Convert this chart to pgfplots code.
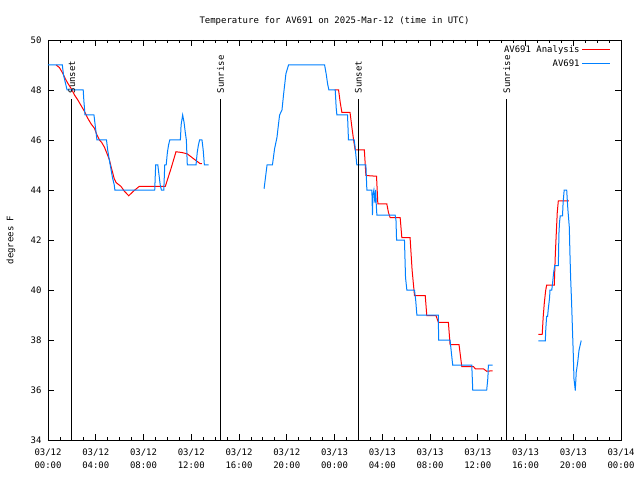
\documentclass[border=0pt]{standalone}
\usepackage{fontspec}
\setmainfont{DejaVu Sans Mono}
\usepackage{pgfplots}
\pgfplotsset{compat=1.18}
\definecolor{gpred}{RGB}{255,0,0}
\definecolor{gpblue}{RGB}{0,128,255}
\begin{document}
\begin{tikzpicture}[font=\fontsize{9}{10}\selectfont]
\begin{axis}[
    name=main,
    scale only axis,
    width=573bp, height=400bp,
    xmin=0, xmax=48, ymin=34, ymax=50,
    xtick={0,4,...,48},
    xticklabels={{03/12\\00:00},{03/12\\04:00},{03/12\\08:00},{03/12\\12:00},{03/12\\16:00},{03/12\\20:00},{03/13\\00:00},{03/13\\04:00},{03/13\\08:00},{03/13\\12:00},{03/13\\16:00},{03/13\\20:00},{03/14\\00:00}},
    minor x tick num=3,
    ytick={34,36,...,50},
    tick align=inside,
    major tick length=6bp,
    minor tick length=3bp,
    tick style={black, line width=0.8bp},
    axis line style={line width=0.9bp},
    /pgf/number format/assume math mode=true,
    xticklabel style={align=center, yshift=-5bp, font=\fontsize{9}{13.5}\selectfont},
    yticklabel style={xshift=-3bp},
    title={Temperature for AV691 on 2025-Mar-12 (time in UTC)},
    title style={at={(0.5,1)}, anchor=center, yshift=13bp},
    ylabel={degrees F},
    ylabel style={at={(axis description cs:-0.0646,0.5)}, anchor=center},
    legend plot pos=right,
    legend cell align=right,
    legend style={draw=none, fill=none, at={(1,1)}, anchor=north east,
        xshift=-9bp, yshift=-2bp, row sep=2bp, inner sep=1bp},
]

% analysis (red)
\addplot[gpred, line width=1bp,
    legend image code/.code={\draw[gpred, line width=1.2bp] (8bp,0bp) -- (36bp,0bp);}] coordinates {
(0.68,49) (0.95,48.9) (1.24,48.67) (1.45,48.45) (1.66,48.27) (1.95,48.05)
(2.22,47.8) (2.5,47.6) (2.78,47.37) (3.05,47.15) (3.33,46.87) (3.6,46.65)
(3.89,46.47) (4.1,46.2) (4.31,46.0) (4.5,45.9) (4.73,45.71) (4.95,45.45)
(5.15,45.2) (5.3,44.9) (5.43,44.67) (5.55,44.45) (5.7,44.3) (6.12,44.14)
(6.4,43.95) (6.76,43.77) (7.2,43.97) (7.66,44.15) (9.83,44.15) (10.3,44.85)
(10.72,45.53) (11.2,45.5) (11.65,45.45) (12.2,45.25) (12.76,45.05) (12.9,45.05)
};
\addlegendentry{AV691 Analysis}
\addplot[gpred, line width=1bp, forget plot] coordinates {
(24.0,48) (24.34,48) (24.48,47.5) (24.62,47.1) (25.3,47.1) (25.46,46.5)
(25.6,46) (25.73,45.6) (26.5,45.6) (26.63,44.58) (27.52,44.55) (27.63,43.45)
(28.38,43.45) (28.52,43.1) (28.66,42.9) (29.5,42.9) (29.64,42.1) (30.33,42.1)
(30.5,40.8) (30.7,39.78) (31.6,39.78) (31.73,38.98) (32.5,38.98) (32.7,38.71)
(33.54,38.71) (33.68,37.82) (34.43,37.82) (34.66,36.94) (35.63,36.94)
(35.8,36.85) (36.47,36.85) (36.75,36.75) (37.25,36.77)
};
\addplot[gpred, line width=1bp, forget plot] coordinates {
(41.07,38.23) (41.4,38.23) (41.48,38.91) (41.57,39.45) (41.68,39.95)
(41.77,40.2) (42.41,40.2) (42.5,41.45) (42.58,42.29) (42.66,43.1)
(42.75,43.57) (43.64,43.57)
};

% observations (blue)
\addplot[gpblue, line width=1bp,
    legend image code/.code={\draw[gpblue, line width=1.2bp] (8bp,0bp) -- (36bp,0bp);}] coordinates {
(0,49) (1.2,49) (1.3,48.6) (1.45,48.3) (1.6,48) (2.95,48) (3.0,47.6) (3.1,47)
(3.85,47) (3.95,46.6) (4.05,46.2) (4.1,46) (4.9,46) (5.0,45.6) (5.1,45.3)
(5.25,44.9) (5.4,44.5) (5.55,44.2) (5.6,44) (8.94,44) (9.02,45) (9.2,45)
(9.3,44.6) (9.4,44.2) (9.5,44) (9.7,44) (9.78,45) (9.9,45) (10.0,45.5)
(10.1,45.8) (10.2,46) (11.09,46) (11.15,46.6) (11.28,47) (11.4,46.7)
(11.5,46.3) (11.59,46) (11.67,45) (12.4,45) (12.5,45.5) (12.6,45.8) (12.7,46)
(12.9,46) (13.0,45.6) (13.1,45) (13.46,45)
};
\addlegendentry{AV691}
\addplot[gpblue, line width=1bp, forget plot] coordinates {
(18.1,44.05) (18.35,45) (18.8,45) (18.98,45.65) (19.18,46.1) (19.3,46.6)
(19.4,47.0) (19.6,47.2) (19.74,47.85) (19.93,48.65) (20.15,49) (23.17,49)
(23.3,48.65) (23.42,48.25) (23.53,48) (24.06,48) (24.14,47.3) (24.2,47)
(25.09,47) (25.17,46) (25.65,46) (25.73,45.7) (25.87,45) (26.63,45)
(26.71,44) (27.13,44) (27.18,43) (27.22,43.8) (27.3,44) (27.38,43.5)
(27.45,44) (27.5,43.4) (27.55,43) (29.08,43) (29.15,42.8) (29.2,42)
(29.86,42) (29.95,40.5) (30.06,40) (30.7,40) (30.8,39.6) (30.9,39) (32.7,39)
(32.72,38) (33.68,38) (33.8,37.45) (33.9,37) (35.5,37) (35.58,36) (36.75,36)
(36.85,36.5) (36.89,37) (37.25,37)
};
\addplot[gpblue, line width=1bp, forget plot] coordinates {
(41.07,37.97) (41.66,37.97) (41.7,38.45) (41.77,38.95) (41.85,38.95)
(41.9,39.2) (42.02,39.71) (42.05,40) (42.2,40) (42.25,40.2) (42.36,40.71)
(42.45,40.98) (42.75,40.98) (42.8,42.25) (42.85,42.71) (42.91,42.97)
(43.1,42.97) (43.15,43.49) (43.24,44) (43.45,44) (43.5,43.6) (43.55,43.22)
(43.67,42.51) (43.72,41.5) (43.78,40.5) (43.86,39.51) (43.93,38.47)
(44.0,37.47) (44.06,36.45) (44.17,35.98) (44.25,36.71) (44.37,37.1)
(44.48,37.58) (44.58,37.8) (44.67,37.98)
};

% sunset / sunrise markers
\addplot[black, line width=1bp, forget plot] coordinates {(1.99,34) (1.99,47.62)};
\addplot[black, line width=1bp, forget plot] coordinates {(14.45,34) (14.45,47.62)};
\addplot[black, line width=1bp, forget plot] coordinates {(26.0,34) (26.0,47.62)};
\addplot[black, line width=1bp, forget plot] coordinates {(38.43,34) (38.43,47.62)};
\node[rotate=90, anchor=west, inner sep=0pt] at (axis cs:1.99,47.86) {Sunset};
\node[rotate=90, anchor=west, inner sep=0pt] at (axis cs:14.45,47.86) {Sunrise};
\node[rotate=90, anchor=west, inner sep=0pt] at (axis cs:26.0,47.86) {Sunset};
\node[rotate=90, anchor=west, inner sep=0pt] at (axis cs:38.43,47.86) {Sunrise};

\end{axis}
% fix the page to 640x480 with the plot box at (48,40)-(621,440) from the top left
\pgfresetboundingbox
\path ([xshift=-48bp,yshift=-40bp]main.south west) rectangle ([xshift=19bp,yshift=40bp]main.north east);
\end{tikzpicture}
\end{document}
